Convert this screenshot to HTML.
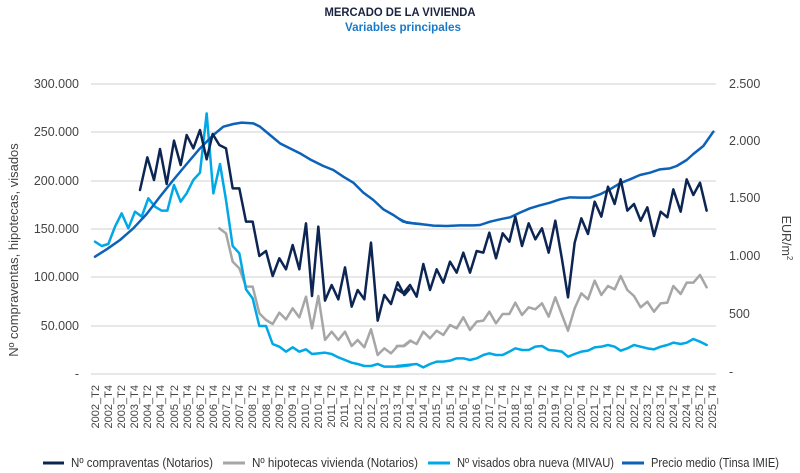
<!DOCTYPE html>
<html><head><meta charset="utf-8"><style>
html,body{margin:0;padding:0;background:#fff;}
svg{display:block;font-family:"Liberation Sans",sans-serif;}
</style></head><body>
<svg width="800" height="473" viewBox="0 0 800 473" xmlns="http://www.w3.org/2000/svg">
<text x="400" y="16" text-anchor="middle" font-size="12" font-weight="bold" fill="#1a2340" textLength="151" lengthAdjust="spacingAndGlyphs">MERCADO DE LA VIVIENDA</text>
<text x="403" y="31" text-anchor="middle" font-size="12" font-weight="bold" fill="#1a7ac8" textLength="116" lengthAdjust="spacingAndGlyphs">Variables principales</text>
<g stroke="#d9d9d9" stroke-width="1.3">
<line x1="91" x2="716" y1="84" y2="84"/><line x1="91" x2="716" y1="132" y2="132"/><line x1="91" x2="716" y1="181" y2="181"/><line x1="91" x2="716" y1="229" y2="229"/><line x1="91" x2="716" y1="277" y2="277"/><line x1="91" x2="716" y1="326" y2="326"/><line x1="91" x2="716" y1="374" y2="374"/>
</g>
<g font-size="12.5" fill="#444" text-anchor="end">
<text x="79" y="88">300.000</text><text x="79" y="136">250.000</text><text x="79" y="185">200.000</text><text x="79" y="233">150.000</text><text x="79" y="281">100.000</text><text x="79" y="330">50.000</text><text x="79" y="378">-</text>
</g>
<g font-size="12.5" fill="#444">
<text x="729" y="88">2.500</text><text x="729" y="145">2.000</text><text x="729" y="202">1.500</text><text x="729" y="260">1.000</text><text x="729" y="318">500</text><text x="729" y="376">-</text>
</g>
<text transform="translate(18,250) rotate(-90)" text-anchor="middle" font-size="13" fill="#444">Nº compraventas, hipotecas, visados</text>
<text transform="translate(782,238) rotate(90)" text-anchor="middle" font-size="12.5" fill="#444">EUR/m<tspan font-size="8" dy="-5">2</tspan></text>
<g font-size="11" fill="#444" text-anchor="end">
<text transform="translate(99,385) rotate(-90)">2002_T2</text><text transform="translate(112,385) rotate(-90)">2002_T4</text><text transform="translate(125,385) rotate(-90)">2003_T2</text><text transform="translate(138,385) rotate(-90)">2003_T4</text><text transform="translate(151,385) rotate(-90)">2004_T2</text><text transform="translate(164,385) rotate(-90)">2004_T4</text><text transform="translate(178,385) rotate(-90)">2005_T2</text><text transform="translate(191,385) rotate(-90)">2005_T4</text><text transform="translate(204,385) rotate(-90)">2006_T2</text><text transform="translate(217,385) rotate(-90)">2006_T4</text><text transform="translate(230,385) rotate(-90)">2007_T2</text><text transform="translate(243,385) rotate(-90)">2007_T4</text><text transform="translate(256,385) rotate(-90)">2008_T2</text><text transform="translate(270,385) rotate(-90)">2008_T4</text><text transform="translate(283,385) rotate(-90)">2009_T2</text><text transform="translate(296,385) rotate(-90)">2009_T4</text><text transform="translate(309,385) rotate(-90)">2010_T2</text><text transform="translate(322,385) rotate(-90)">2010_T4</text><text transform="translate(335,385) rotate(-90)">2011_T2</text><text transform="translate(348,385) rotate(-90)">2011_T4</text><text transform="translate(362,385) rotate(-90)">2012_T2</text><text transform="translate(375,385) rotate(-90)">2012_T4</text><text transform="translate(388,385) rotate(-90)">2013_T2</text><text transform="translate(401,385) rotate(-90)">2013_T4</text><text transform="translate(414,385) rotate(-90)">2014_T2</text><text transform="translate(427,385) rotate(-90)">2014_T4</text><text transform="translate(440,385) rotate(-90)">2015_T2</text><text transform="translate(454,385) rotate(-90)">2015_T4</text><text transform="translate(467,385) rotate(-90)">2016_T2</text><text transform="translate(480,385) rotate(-90)">2016_T4</text><text transform="translate(493,385) rotate(-90)">2017_T2</text><text transform="translate(506,385) rotate(-90)">2017_T4</text><text transform="translate(519,385) rotate(-90)">2018_T2</text><text transform="translate(532,385) rotate(-90)">2018_T4</text><text transform="translate(546,385) rotate(-90)">2019_T2</text><text transform="translate(559,385) rotate(-90)">2019_T4</text><text transform="translate(572,385) rotate(-90)">2020_T2</text><text transform="translate(585,385) rotate(-90)">2020_T4</text><text transform="translate(598,385) rotate(-90)">2021_T2</text><text transform="translate(611,385) rotate(-90)">2021_T4</text><text transform="translate(624,385) rotate(-90)">2022_T2</text><text transform="translate(638,385) rotate(-90)">2022_T4</text><text transform="translate(651,385) rotate(-90)">2023_T2</text><text transform="translate(664,385) rotate(-90)">2023_T4</text><text transform="translate(677,385) rotate(-90)">2024_T2</text><text transform="translate(690,385) rotate(-90)">2024_T4</text><text transform="translate(703,385) rotate(-90)">2025_T2</text><text transform="translate(716,385) rotate(-90)">2025_T4</text>
</g>
<g fill="none" stroke-width="7.5" stroke-linejoin="round" stroke-linecap="round">
<g transform="translate(60,60) scale(0.33333)">
<polyline stroke="#a6a6a6" points="478,505 498,520 518,605 538,625 558,680 578,680 598,760 618,780 638,792 658,758 678,778 698,745 718,772 738,710 756,805 775,708 795,840 815,815 835,840 855,815 875,858 893,840 913,862 933,808 953,885 973,865 993,880 1013,858 1033,858 1053,842"/>
<polyline stroke="#00a8e6" points="105,545 125,558 145,552 165,500 185,460 205,505 225,455 245,470 265,415 285,440 305,452 322,452 342,375 362,425 380,400 400,360 420,338 440,160 460,400 480,312 498,420 518,558 538,580 558,688 578,715 598,798 618,798 638,852 658,860 678,875 698,862 718,875 738,868 756,882 775,880 795,878 815,882 835,892 855,900 875,908 893,912 913,918 933,918 953,912 973,920 993,920 1013,920 1033,918 1053,915"/>
<polyline stroke="#0c62b8" points="105,590 140,568 180,540 220,505 260,462 300,410 340,360 380,312 420,265 460,225 490,200 520,192 545,188 580,190 600,200 630,225 660,250 690,265 720,280 750,298 790,318 820,330 850,350 880,368 910,398 940,420 970,448 1000,465 1030,485 1060,490 1080,492"/>
<polyline stroke="#0d2552" points="240,390 262,292 282,360 300,267 320,372 342,242 362,315 380,225 400,265 420,210 440,298 458,222 478,255 498,265 518,385 538,385 558,485 578,485 598,588 618,573 638,648 658,595 678,628 698,555 718,628 738,490 756,708 775,500 795,722 815,675 835,718 855,622 875,740 893,690 913,718 933,548 953,782 973,705 993,732 1013,667 1033,705 1048,688"/>
</g>
<g transform="translate(400,60) scale(0.33333)">
<polyline stroke="#a6a6a6" points="-10,858 10,858 30,842 50,852 70,815 90,835 110,812 130,825 150,795 170,805 190,772 210,810 230,785 250,782 268,755 288,790 308,762 328,762 346,728 366,765 386,742 406,748 426,730 446,770 466,712 486,765 504,812 524,745 544,700 564,718 584,662 604,705 624,678 644,688 662,648 682,690 702,708 722,742 742,725 762,755 782,730 802,728 820,678 842,702 860,668 880,668 900,645 920,682"/>
<polyline stroke="#00a8e6" points="-10,918 20,915 50,912 70,922 90,912 110,905 130,905 150,902 170,895 190,895 210,900 230,895 250,885 268,880 288,885 308,885 328,875 346,865 366,870 386,870 406,860 426,858 446,870 466,872 486,875 504,890 524,882 544,875 564,872 584,862 604,860 624,855 644,860 662,872 682,865 702,855 722,860 742,865 762,868 782,860 802,855 820,848 842,852 860,848 880,837 900,845 920,855"/>
<polyline stroke="#0c62b8" points="0,478 20,488 60,492 100,497 140,498 180,496 220,496 240,495 270,485 300,478 330,472 360,458 390,445 420,436 450,428 480,418 510,412 540,413 570,413 600,403 630,388 660,370 690,358 720,345 750,338 780,328 810,325 830,318 860,300 880,282 910,258 940,215"/>
<polyline stroke="#0d2552" points="-8,688 10,700 30,675 50,710 70,612 90,690 110,628 130,668 150,605 170,638 190,578 210,638 230,573 250,578 268,518 288,595 308,520 328,545 346,470 366,558 386,490 406,538 426,505 446,578 466,482 486,598 504,712 524,548 544,475 564,522 584,425 604,470 624,380 644,432 662,358 682,452 702,432 722,482 742,442 762,528 782,455 802,472 820,388 842,455 860,358 880,405 900,368 920,452"/>
</g>
</g>
<g stroke-width="3">
<line x1="43" x2="64" y1="463" y2="463" stroke="#0d2552"/>
<line x1="223" x2="245" y1="463" y2="463" stroke="#a6a6a6"/>
<line x1="428" x2="450" y1="463" y2="463" stroke="#00a8e6"/>
<line x1="622" x2="644" y1="463" y2="463" stroke="#0c62b8"/>
</g>
<g font-size="13" fill="#333">
<text x="71" y="467" textLength="142" lengthAdjust="spacingAndGlyphs">Nº compraventas (Notarios)</text>
<text x="252" y="467" textLength="166" lengthAdjust="spacingAndGlyphs">Nº hipotecas vivienda (Notarios)</text>
<text x="457" y="467" textLength="157" lengthAdjust="spacingAndGlyphs">Nº visados obra nueva (MIVAU)</text>
<text x="651" y="467" textLength="128" lengthAdjust="spacingAndGlyphs">Precio medio (Tinsa IMIE)</text>
</g>
</svg>
</body></html>
